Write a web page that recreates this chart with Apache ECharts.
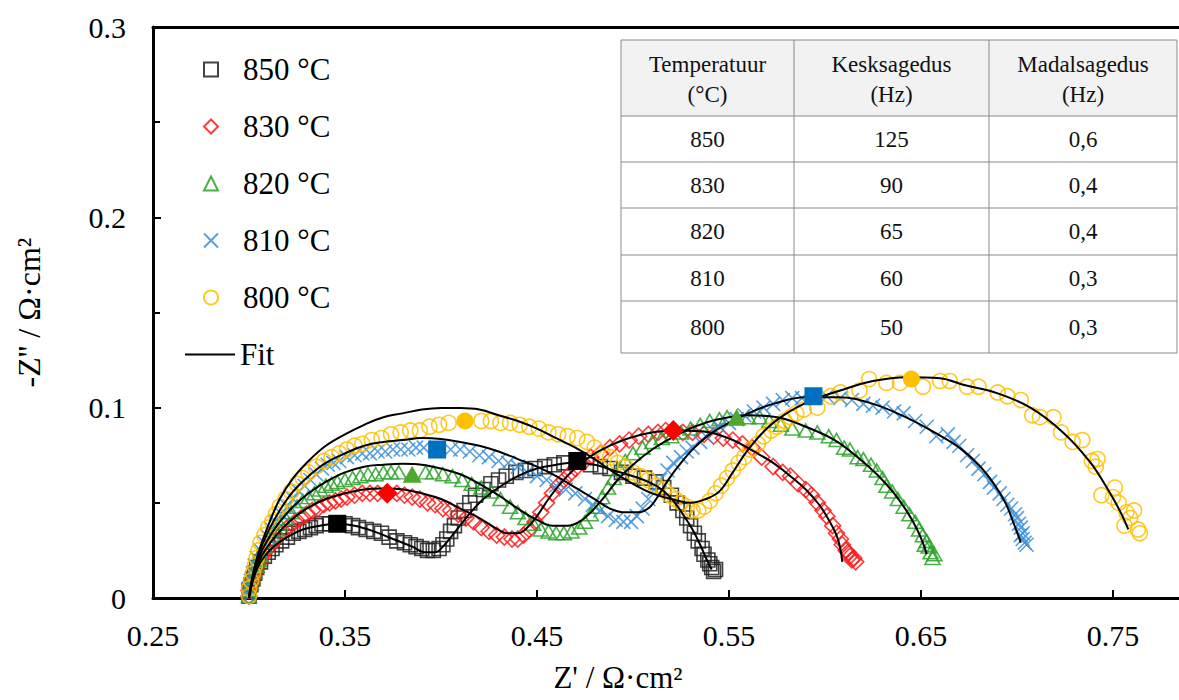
<!DOCTYPE html>
<html><head><meta charset="utf-8">
<script src="https://cdn.jsdelivr.net/npm/echarts@6/dist/echarts.min.js"></script>
<style>html,body{margin:0;padding:0;background:#fff}#c{width:1179px;height:700px}</style>
</head><body><div id="c"></div>
<script>
const xTicks = [0.25, 0.35, 0.45, 0.55, 0.65, 0.75];
const xInnerTicks = [0.35, 0.45, 0.55, 0.65, 0.75];
const seriesNames = ['850 °C', '830 °C', '820 °C', '810 °C', '800 °C'];
const fitName = 'Fit';
const xTitle = "Z' / Ω·cm²";
const yTitle = "-Z'' / Ω·cm²";

const d850 = [[0.300,0.001],[0.300,0.004],[0.301,0.007],[0.302,0.010],[0.303,0.013],[0.304,0.016],[0.306,0.019],[0.308,0.022],[0.310,0.024],[0.312,0.026],[0.314,0.028],[0.317,0.030],[0.320,0.032],[0.323,0.034],[0.326,0.035],[0.329,0.036],[0.332,0.037],[0.335,0.038],[0.338,0.039],[0.342,0.039],[0.350,0.039],[0.354,0.038],[0.357,0.037],[0.361,0.036],[0.365,0.035],[0.369,0.034],[0.373,0.032],[0.377,0.030],[0.381,0.029],[0.384,0.028],[0.387,0.027],[0.390,0.026],[0.393,0.025],[0.396,0.025],[0.399,0.026],[0.401,0.028],[0.403,0.031],[0.405,0.035],[0.407,0.038],[0.409,0.042],[0.412,0.046],[0.415,0.050],[0.418,0.054],[0.422,0.057],[0.426,0.060],[0.430,0.062],[0.434,0.064],[0.439,0.066],[0.444,0.067],[0.449,0.068],[0.454,0.069],[0.459,0.070],[0.464,0.071],[0.478,0.070],[0.483,0.069],[0.488,0.068],[0.494,0.066],[0.500,0.064],[0.506,0.063],[0.512,0.061],[0.516,0.058],[0.520,0.054],[0.523,0.050],[0.526,0.046],[0.528,0.042],[0.530,0.038],[0.532,0.034],[0.534,0.030],[0.536,0.026],[0.537,0.023],[0.539,0.020],[0.540,0.018],[0.541,0.016],[0.543,0.015],[0.542,0.014]];
const d830 = [[0.300,0.001],[0.300,0.004],[0.301,0.007],[0.302,0.010],[0.303,0.013],[0.304,0.016],[0.306,0.019],[0.307,0.022],[0.309,0.025],[0.311,0.027],[0.313,0.030],[0.315,0.032],[0.318,0.035],[0.321,0.038],[0.324,0.040],[0.327,0.042],[0.330,0.044],[0.333,0.046],[0.336,0.047],[0.339,0.049],[0.342,0.050],[0.345,0.051],[0.348,0.052],[0.351,0.053],[0.355,0.054],[0.359,0.055],[0.363,0.055],[0.367,0.055],[0.377,0.055],[0.381,0.054],[0.385,0.053],[0.389,0.052],[0.393,0.050],[0.397,0.049],[0.401,0.047],[0.405,0.046],[0.409,0.044],[0.413,0.042],[0.417,0.040],[0.421,0.037],[0.425,0.035],[0.429,0.033],[0.433,0.032],[0.437,0.031],[0.440,0.031],[0.443,0.033],[0.446,0.036],[0.449,0.040],[0.452,0.045],[0.455,0.050],[0.458,0.055],[0.461,0.059],[0.464,0.062],[0.467,0.065],[0.470,0.068],[0.474,0.071],[0.478,0.074],[0.483,0.076],[0.488,0.079],[0.493,0.081],[0.498,0.083],[0.503,0.085],[0.508,0.086],[0.513,0.087],[0.517,0.088],[0.526,0.087],[0.531,0.087],[0.537,0.086],[0.542,0.085],[0.547,0.084],[0.552,0.083],[0.557,0.081],[0.562,0.079],[0.567,0.074],[0.573,0.069],[0.578,0.066],[0.582,0.064],[0.586,0.060],[0.590,0.057],[0.593,0.054],[0.596,0.050],[0.599,0.046],[0.601,0.043],[0.604,0.038],[0.606,0.034],[0.608,0.031],[0.609,0.028],[0.611,0.025],[0.613,0.022],[0.614,0.020],[0.616,0.019],[0.612,0.024],[0.615,0.021]];
const d820 = [[0.300,0.001],[0.300,0.004],[0.301,0.008],[0.302,0.011],[0.303,0.014],[0.304,0.017],[0.305,0.020],[0.306,0.023],[0.308,0.027],[0.310,0.030],[0.312,0.033],[0.314,0.036],[0.316,0.039],[0.319,0.042],[0.322,0.045],[0.325,0.048],[0.328,0.051],[0.331,0.053],[0.334,0.055],[0.337,0.057],[0.340,0.059],[0.343,0.060],[0.346,0.061],[0.350,0.062],[0.354,0.063],[0.358,0.064],[0.362,0.065],[0.366,0.065],[0.370,0.066],[0.374,0.066],[0.378,0.066],[0.392,0.066],[0.396,0.066],[0.401,0.065],[0.406,0.064],[0.411,0.062],[0.416,0.060],[0.421,0.058],[0.426,0.056],[0.431,0.052],[0.436,0.048],[0.440,0.045],[0.444,0.042],[0.448,0.039],[0.452,0.036],[0.456,0.035],[0.460,0.034],[0.464,0.034],[0.468,0.035],[0.472,0.037],[0.475,0.040],[0.478,0.044],[0.481,0.048],[0.484,0.053],[0.487,0.058],[0.490,0.063],[0.493,0.068],[0.496,0.072],[0.500,0.076],[0.505,0.079],[0.510,0.082],[0.515,0.084],[0.520,0.085],[0.525,0.087],[0.530,0.089],[0.535,0.091],[0.540,0.093],[0.545,0.094],[0.549,0.095],[0.560,0.095],[0.566,0.095],[0.571,0.093],[0.577,0.091],[0.583,0.089],[0.590,0.088],[0.596,0.087],[0.602,0.085],[0.606,0.083],[0.610,0.079],[0.613,0.078],[0.617,0.074],[0.620,0.073],[0.624,0.070],[0.627,0.067],[0.630,0.063],[0.632,0.059],[0.635,0.056],[0.638,0.052],[0.641,0.048],[0.644,0.044],[0.647,0.040],[0.649,0.036],[0.651,0.033],[0.653,0.030],[0.654,0.027],[0.655,0.024],[0.656,0.021],[0.657,0.023],[0.652,0.028]];
const d810 = [[0.300,0.001],[0.300,0.005],[0.301,0.009],[0.302,0.013],[0.303,0.017],[0.304,0.021],[0.306,0.025],[0.308,0.029],[0.310,0.032],[0.312,0.036],[0.314,0.040],[0.317,0.044],[0.320,0.048],[0.323,0.052],[0.326,0.056],[0.329,0.059],[0.332,0.062],[0.335,0.065],[0.338,0.068],[0.341,0.070],[0.344,0.071],[0.347,0.072],[0.351,0.074],[0.355,0.075],[0.359,0.076],[0.363,0.076],[0.367,0.077],[0.371,0.077],[0.375,0.078],[0.379,0.078],[0.383,0.078],[0.387,0.079],[0.391,0.079],[0.405,0.078],[0.410,0.078],[0.415,0.077],[0.420,0.075],[0.425,0.074],[0.430,0.072],[0.435,0.071],[0.440,0.069],[0.445,0.066],[0.450,0.064],[0.455,0.062],[0.460,0.059],[0.465,0.057],[0.470,0.055],[0.475,0.052],[0.479,0.049],[0.483,0.046],[0.487,0.043],[0.491,0.041],[0.495,0.040],[0.499,0.040],[0.502,0.043],[0.505,0.047],[0.508,0.052],[0.511,0.057],[0.514,0.062],[0.518,0.067],[0.521,0.071],[0.525,0.074],[0.528,0.077],[0.531,0.079],[0.535,0.082],[0.538,0.085],[0.542,0.088],[0.545,0.090],[0.550,0.092],[0.554,0.094],[0.558,0.096],[0.563,0.098],[0.568,0.100],[0.573,0.102],[0.578,0.104],[0.583,0.105],[0.588,0.105],[0.601,0.106],[0.608,0.105],[0.614,0.104],[0.620,0.102],[0.625,0.101],[0.630,0.100],[0.636,0.098],[0.641,0.097],[0.647,0.093],[0.653,0.090],[0.658,0.085],[0.664,0.086],[0.667,0.082],[0.670,0.080],[0.674,0.075],[0.677,0.072],[0.680,0.068],[0.683,0.065],[0.686,0.061],[0.688,0.058],[0.691,0.055],[0.693,0.052],[0.695,0.049],[0.697,0.047],[0.699,0.044],[0.700,0.042],[0.701,0.039],[0.702,0.037],[0.703,0.034],[0.703,0.031],[0.704,0.029],[0.705,0.028],[0.702,0.033]];
const d800 = [[0.300,0.001],[0.300,0.005],[0.301,0.009],[0.302,0.013],[0.303,0.017],[0.304,0.021],[0.305,0.025],[0.306,0.029],[0.308,0.033],[0.310,0.037],[0.312,0.040],[0.314,0.044],[0.316,0.048],[0.319,0.052],[0.322,0.056],[0.325,0.060],[0.328,0.063],[0.331,0.066],[0.335,0.069],[0.339,0.072],[0.343,0.074],[0.347,0.076],[0.351,0.078],[0.355,0.080],[0.359,0.081],[0.364,0.083],[0.369,0.084],[0.374,0.086],[0.379,0.087],[0.384,0.088],[0.389,0.088],[0.394,0.090],[0.399,0.091],[0.404,0.092],[0.421,0.093],[0.426,0.093],[0.431,0.092],[0.436,0.092],[0.441,0.091],[0.446,0.090],[0.451,0.089],[0.456,0.087],[0.461,0.086],[0.466,0.085],[0.471,0.084],[0.476,0.082],[0.480,0.079],[0.484,0.076],[0.488,0.074],[0.492,0.071],[0.496,0.069],[0.500,0.066],[0.504,0.064],[0.508,0.062],[0.512,0.059],[0.516,0.057],[0.519,0.054],[0.522,0.052],[0.525,0.050],[0.528,0.048],[0.531,0.046],[0.534,0.046],[0.537,0.048],[0.540,0.051],[0.543,0.055],[0.546,0.059],[0.549,0.063],[0.552,0.067],[0.555,0.071],[0.558,0.074],[0.561,0.078],[0.565,0.081],[0.568,0.085],[0.572,0.088],[0.575,0.090],[0.579,0.093],[0.582,0.095],[0.585,0.097],[0.589,0.099],[0.596,0.100],[0.603,0.106],[0.608,0.108],[0.618,0.109],[0.623,0.115],[0.632,0.113],[0.639,0.113],[0.651,0.111],[0.660,0.114],[0.665,0.114],[0.674,0.111],[0.680,0.111],[0.690,0.108],[0.695,0.106],[0.702,0.104],[0.708,0.096],[0.712,0.095],[0.719,0.095],[0.723,0.087],[0.729,0.082],[0.734,0.083],[0.739,0.072],[0.741,0.069],[0.742,0.073],[0.744,0.054],[0.750,0.053],[0.751,0.058],[0.753,0.050],[0.756,0.038],[0.757,0.045],[0.759,0.042],[0.761,0.046],[0.763,0.036],[0.764,0.034]];

const hl850 = [[0.346,0.039],[0.471,0.072]];
const hl830 = [[0.372,0.055],[0.521,0.088]];
const hl820 = [[0.385,0.065],[0.554,0.095]];
const hl810 = [[0.398,0.078],[0.594,0.106]];
const hl800 = [[0.4125,0.093],[0.645,0.115]];

const f850 = [[0.300,0],[0.302,0.009],[0.305,0.017],[0.309,0.023],[0.314,0.028],[0.320,0.032],[0.328,0.036],[0.337,0.038],[0.346,0.039],[0.355,0.038],[0.365,0.035],[0.375,0.031],[0.385,0.027],[0.392,0.024],[0.397,0.024],[0.401,0.027],[0.406,0.033],[0.413,0.042],[0.421,0.051],[0.430,0.058],[0.440,0.064],[0.450,0.068],[0.460,0.070],[0.470,0.071],[0.480,0.070],[0.490,0.067],[0.500,0.064],[0.508,0.061],[0.515,0.057],[0.521,0.051],[0.526,0.044],[0.531,0.036],[0.535,0.028],[0.538,0.021],[0.541,0.015]];
const f830 = [[0.300,0],[0.302,0.010],[0.305,0.019],[0.309,0.026],[0.315,0.034],[0.322,0.041],[0.330,0.047],[0.340,0.052],[0.350,0.055],[0.360,0.057],[0.370,0.0575],[0.380,0.057],[0.390,0.055],[0.400,0.052],[0.410,0.047],[0.420,0.042],[0.428,0.037],[0.435,0.034],[0.440,0.034],[0.445,0.037],[0.450,0.043],[0.456,0.052],[0.463,0.061],[0.472,0.070],[0.482,0.077],[0.495,0.083],[0.510,0.087],[0.525,0.088],[0.540,0.087],[0.552,0.083],[0.563,0.077],[0.573,0.071],[0.582,0.064],[0.590,0.057],[0.597,0.049],[0.602,0.041],[0.606,0.033],[0.608,0.026],[0.609,0.019]];
const f820 = [[0.300,0],[0.302,0.011],[0.305,0.021],[0.310,0.031],[0.316,0.040],[0.323,0.048],[0.331,0.055],[0.340,0.061],[0.350,0.066],[0.360,0.069],[0.370,0.070],[0.380,0.0705],[0.390,0.070],[0.400,0.068],[0.410,0.065],[0.420,0.060],[0.430,0.054],[0.440,0.047],[0.450,0.041],[0.458,0.038],[0.466,0.038],[0.472,0.040],[0.478,0.045],[0.485,0.053],[0.492,0.062],[0.500,0.070],[0.510,0.078],[0.520,0.084],[0.532,0.090],[0.545,0.094],[0.560,0.096],[0.575,0.095],[0.590,0.090],[0.605,0.083],[0.617,0.074],[0.627,0.065],[0.636,0.055],[0.643,0.045],[0.648,0.036],[0.651,0.029],[0.653,0.023]];
const f810 = [[0.300,0],[0.302,0.012],[0.305,0.023],[0.310,0.035],[0.316,0.046],[0.323,0.056],[0.331,0.064],[0.340,0.071],[0.350,0.076],[0.360,0.080],[0.370,0.082],[0.380,0.083],[0.390,0.084],[0.400,0.0835],[0.410,0.082],[0.420,0.080],[0.430,0.077],[0.440,0.073],[0.450,0.069],[0.460,0.064],[0.470,0.058],[0.480,0.052],[0.488,0.047],[0.496,0.045],[0.503,0.045],[0.509,0.048],[0.514,0.055],[0.519,0.063],[0.525,0.071],[0.532,0.079],[0.540,0.086],[0.550,0.092],[0.560,0.097],[0.573,0.102],[0.590,0.1055],[0.607,0.1055],[0.625,0.102],[0.642,0.095],[0.657,0.087],[0.670,0.079],[0.680,0.070],[0.688,0.060],[0.694,0.050],[0.698,0.040],[0.701,0.032],[0.702,0.029]];
const f800 = [[0.300,0],[0.302,0.012],[0.305,0.024],[0.310,0.038],[0.316,0.052],[0.323,0.063],[0.331,0.072],[0.340,0.080],[0.350,0.086],[0.360,0.091],[0.370,0.095],[0.380,0.097],[0.390,0.099],[0.400,0.0998],[0.410,0.0998],[0.420,0.099],[0.430,0.096],[0.440,0.093],[0.450,0.089],[0.460,0.084],[0.470,0.079],[0.480,0.073],[0.490,0.066],[0.500,0.060],[0.510,0.055],[0.520,0.052],[0.530,0.050],[0.538,0.052],[0.545,0.056],[0.552,0.066],[0.560,0.078],[0.573,0.092],[0.590,0.1025],[0.608,0.109],[0.625,0.114],[0.643,0.116],[0.660,0.1155],[0.672,0.112],[0.690,0.1075],[0.707,0.100],[0.724,0.087],[0.738,0.0715],[0.748,0.056],[0.754,0.045],[0.758,0.036]];

const tableHeader = [['Temperatuur', '(°C)'], ['Kesksagedus', '(Hz)'], ['Madalsagedus', '(Hz)']];
const tableRows = [['850', '125', '0,6'], ['830', '90', '0,4'], ['820', '65', '0,4'], ['810', '60', '0,3'], ['800', '50', '0,3']];

const FONT = 'Liberation Serif';
const X_PATH = 'path://M0,0L10,10M10,0L0,10';

const dataSets = [d850, d830, d820, d810, d800];
const hlSets = [hl850, hl830, hl820, hl810, hl800];
const fitSets = [f850, f830, f820, f810, f800];
const symbols = ['rect', 'diamond', 'triangle', X_PATH, 'circle'];
const sizes = [14, 16, [15, 13], 14, 15];
const colors = ['#222222', '#ff1a1a', '#2aa22a', '#3a8fd9', '#ffc000'];
const hlColors = ['#000000', '#ff0000', '#4ea72e', '#0070c0', '#ffc000'];
const hlSizes = [18, 21, [19, 17], 18, 17];
const hlSymbols = ['rect', 'diamond', 'triangle', 'rect', 'circle'];

const series = [];
dataSets.forEach((d, i) => {
  series.push({
    name: seriesNames[i], type: 'scatter', data: d,
    symbol: symbols[i], symbolSize: sizes[i],
    itemStyle: { color: 'rgba(255,255,255,0)', borderColor: colors[i], borderWidth: 1.6, opacity: 0.85 },
    emphasis: { disabled: true }, z: 2
  });
});
fitSets.forEach((d, i) => {
  series.push({
    name: fitName, type: 'line', data: d, smooth: 0.4, symbol: 'none', showSymbol: false,
    lineStyle: { color: '#000', width: 2 }, itemStyle: { color: '#000' },
    emphasis: { disabled: true }, z: 3
  });
});
hlSets.forEach((d, i) => {
  series.push({
    name: 'hl' + i, type: 'scatter', data: d,
    symbol: hlSymbols[i], symbolSize: hlSizes[i],
    itemStyle: { color: hlColors[i], opacity: 1 },
    emphasis: { disabled: true }, z: 4
  });
});

// table graphic
const tL = 621, tR = 1177, colX = [621, 794, 989, 1177];
const rowY = [40, 116, 162, 208, 255, 301, 353];
const tableEls = [];
tableEls.push({ type: 'rect', shape: { x: tL, y: rowY[0], width: tR - tL, height: rowY[1] - rowY[0] }, style: { fill: '#f2f2f2' } });
rowY.forEach(y => tableEls.push({ type: 'line', shape: { x1: tL, y1: y, x2: tR, y2: y }, style: { stroke: '#8a8a8a', lineWidth: 1 } }));
colX.forEach(x => tableEls.push({ type: 'line', shape: { x1: x, y1: rowY[0], x2: x, y2: rowY[rowY.length - 1] }, style: { stroke: '#8a8a8a', lineWidth: 1 } }));
const cellText = (x, y, t) => ({ type: 'text', x: x, y: y, style: { text: t, fontFamily: FONT, fontSize: 23, fill: '#111', align: 'center', verticalAlign: 'middle' } });
tableHeader.forEach((h, c) => {
  const cx = (colX[c] + colX[c + 1]) / 2;
  tableEls.push(cellText(cx, 64, h[0]));
  tableEls.push(cellText(cx, 94, h[1]));
});
tableRows.forEach((r, ri) => {
  const cy = (rowY[ri + 1] + rowY[ri + 2]) / 2;
  r.forEach((v, c) => tableEls.push(cellText((colX[c] + colX[c + 1]) / 2, cy, v)));
});

const axisLine = { show: true, lineStyle: { color: '#000', width: 3 } };
const option = {
  animation: false,
  backgroundColor: '#fff',
  textStyle: { fontFamily: FONT },
  grid: { left: 153, right: 0, top: 27, bottom: 102, containLabel: false, outerBoundsMode: 'none' },
  legend: [
    {
      data: seriesNames, orient: 'vertical', left: 198, top: 49,
      itemWidth: 14, itemHeight: 14, itemGap: 26, selectedMode: false,
      textStyle: { fontFamily: FONT, fontSize: 31, color: '#000', padding: [0, 0, 0, 20] }
    },
    {
      data: [{ name: fitName, icon: 'rect' }], orient: 'vertical', left: 180, top: 334,
      itemWidth: 50, itemHeight: 2, selectedMode: false,
      itemStyle: { color: '#000' },
      textStyle: { fontFamily: FONT, fontSize: 31, color: '#000' }
    }
  ],
  xAxis: [
    {
      type: 'value', min: 0.25, max: 0.7844, position: 'bottom',
      axisLine: axisLine,
      axisTick: { show: true, inside: true, length: 8, lineStyle: { color: '#000', width: 2 }, customValues: xInnerTicks },
      axisLabel: { customValues: xTicks, margin: 22, fontFamily: FONT, fontSize: 30, color: '#000', formatter: v => String(v) },
      splitLine: { show: false },
      name: xTitle, nameLocation: 'middle', nameGap: 64,
      nameTextStyle: { fontFamily: FONT, fontSize: 31, color: '#000', padding: [0, 96, 0, 0] }
    },
    {
      type: 'value', min: 0.25, max: 0.7844, position: 'top',
      axisLine: axisLine, axisTick: { show: false }, axisLabel: { show: false }, splitLine: { show: false }
    }
  ],
  yAxis: {
    type: 'value', min: 0, max: 0.3, interval: 0.1,
    axisLine: axisLine,
    axisTick: { show: true, inside: true, length: 8, lineStyle: { color: '#000', width: 2 } },
    minorTick: { show: true, splitNumber: 2, length: 7, lineStyle: { color: '#000', width: 2 } },
    axisLabel: { margin: 27, fontFamily: FONT, fontSize: 30, color: '#000', formatter: v => String(+v.toFixed(2)) },
    splitLine: { show: false }, minorSplitLine: { show: false },
    name: yTitle, nameLocation: 'middle', nameGap: 108,
    nameTextStyle: { fontFamily: FONT, fontSize: 32, color: '#000' }
  },
  graphic: [{ type: 'group', children: tableEls, z: 10 }],
  series: series
};
const chart = echarts.init(document.getElementById('c'), null, { renderer: 'svg' });
chart.setOption(option);
</script></body></html>
